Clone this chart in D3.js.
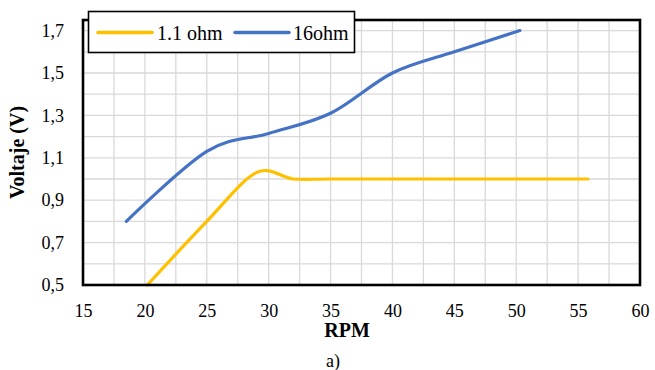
<!DOCTYPE html>
<html>
<head>
<meta charset="utf-8">
<script src="https://cdn.jsdelivr.net/npm/d3@7"></script>
<style>
  html, body { margin: 0; padding: 0; background: #fff; }
  svg { display: block; }
  svg text { font-family: "Liberation Serif", "Times New Roman", serif; fill: #000; }
</style>
</head>
<body>
<svg id="chart" width="655" height="370"></svg>
<script>
// Measured voltage vs rotational speed for two load resistances
const seriesNames = ["1.1 ohm", "16ohm"];
const seriesColors = ["#FFC000", "#4472C4"];

const rpm11 = [20.2, 25, 29, 32, 35, 40, 45, 50, 55.8];
const volt11 = [0.5, 0.8, 1.03, 1.0, 1.0, 1.0, 1.0, 1.0, 1.0];

const rpm16 = [18.5, 25, 30, 35, 40, 45, 50.3];
const volt16 = [0.8, 1.13, 1.215, 1.31, 1.5, 1.6, 1.7];

const xTicks = [15, 20, 25, 30, 35, 40, 45, 50, 55, 60];
const yTicks = [0.5, 0.7, 0.9, 1.1, 1.3, 1.5, 1.7];
const xGrid = d3.range(15, 60.01, 2.5);
const yGrid = d3.range(0.5, 1.701, 0.1);

const FONT = "'Liberation Serif', 'Times New Roman', serif";

const svg = d3.select("#chart");
const plotL = 83, plotR = 640, plotT = 20, plotB = 285;

const x = d3.scaleLinear().domain([15, 60]).range([plotL, plotR]);
const y = d3.scaleLinear().domain([0.5, 1.75]).range([plotB, plotT]);

const locale = d3.formatLocale({ decimal: ",", thousands: ".", grouping: [3], currency: ["", ""] });
const fmtY = locale.format(".1f");

// gridlines
const grid = svg.append("g").attr("stroke", "#d9d9d9").attr("stroke-width", 1.3);
grid.selectAll("line.v").data(xGrid).join("line")
  .attr("class", "v")
  .attr("x1", d => x(d)).attr("x2", d => x(d))
  .attr("y1", plotT).attr("y2", plotB);
grid.selectAll("line.h").data(yGrid).join("line")
  .attr("class", "h")
  .attr("x1", plotL).attr("x2", plotR)
  .attr("y1", d => y(d)).attr("y2", d => y(d));

// axes (labels only)
const xAxis = svg.append("g")
  .attr("transform", `translate(0,${plotB})`)
  .call(d3.axisBottom(x).tickValues(xTicks).tickSize(0).tickPadding(19).tickFormat(d3.format("d")));
xAxis.select(".domain").remove();
xAxis.attr("font-family", FONT).attr("font-size", 18);
xAxis.selectAll("text").style("font-family", FONT).style("font-size", "18px");

const yAxis = svg.append("g")
  .attr("transform", `translate(${plotL},0)`)
  .call(d3.axisLeft(y).tickValues(yTicks).tickSize(0).tickPadding(19).tickFormat(fmtY));
yAxis.select(".domain").remove();
yAxis.attr("font-family", FONT).attr("font-size", 18);
yAxis.selectAll("text").style("font-family", FONT).style("font-size", "18px");

// series lines
const line = d3.line()
  .x(d => x(d[0]))
  .y(d => y(d[1]))
  .curve(d3.curveCatmullRom.alpha(0));

const series = [
  d3.zip(rpm11, volt11),
  d3.zip(rpm16, volt16)
];

svg.append("g").selectAll("path").data(series).join("path")
  .attr("d", line)
  .attr("fill", "none")
  .attr("stroke", (d, i) => seriesColors[i])
  .attr("stroke-width", 3.2)
  .attr("stroke-linecap", "round")
  .attr("stroke-linejoin", "round");

// plot frame
svg.append("rect")
  .attr("x", plotL).attr("y", plotT)
  .attr("width", plotR - plotL).attr("height", plotB - plotT)
  .attr("fill", "none")
  .attr("stroke", "#000")
  .attr("stroke-width", 2.6);

// legend
const legend = svg.append("g");
legend.append("rect")
  .attr("x", 88.5).attr("y", 11.5)
  .attr("width", 266).attr("height", 41)
  .attr("fill", "#fff")
  .attr("stroke", "#000")
  .attr("stroke-width", 1.6);
const legendItems = [
  { x0: 98, x1: 152, tx: 157 },
  { x0: 235, x1: 289, tx: 293 }
];
legendItems.forEach((it, i) => {
  legend.append("line")
    .attr("x1", it.x0).attr("x2", it.x1)
    .attr("y1", 32.5).attr("y2", 32.5)
    .attr("stroke", seriesColors[i])
    .attr("stroke-width", 3.5)
    .attr("stroke-linecap", "round");
  legend.append("text")
    .attr("x", it.tx).attr("y", 39.5)
    .style("font-family", FONT)
    .style("font-size", "20px")
    .text(seriesNames[i]);
});

// axis titles
svg.append("text")
  .attr("x", 347).attr("y", 337)
  .attr("text-anchor", "middle")
  .style("font-family", FONT)
  .style("font-size", "20px").style("font-weight", "bold")
  .text("RPM");

svg.append("text")
  .attr("transform", `translate(24,${(plotT + plotB) / 2}) rotate(-90)`)
  .attr("text-anchor", "middle")
  .style("font-family", FONT)
  .style("font-size", "20px").style("font-weight", "bold")
  .text("Voltaje (V)");

svg.append("text")
  .attr("x", 333).attr("y", 367)
  .attr("text-anchor", "middle")
  .style("font-family", FONT)
  .style("font-size", "18px")
  .text("a)");
</script>
</body>
</html>
